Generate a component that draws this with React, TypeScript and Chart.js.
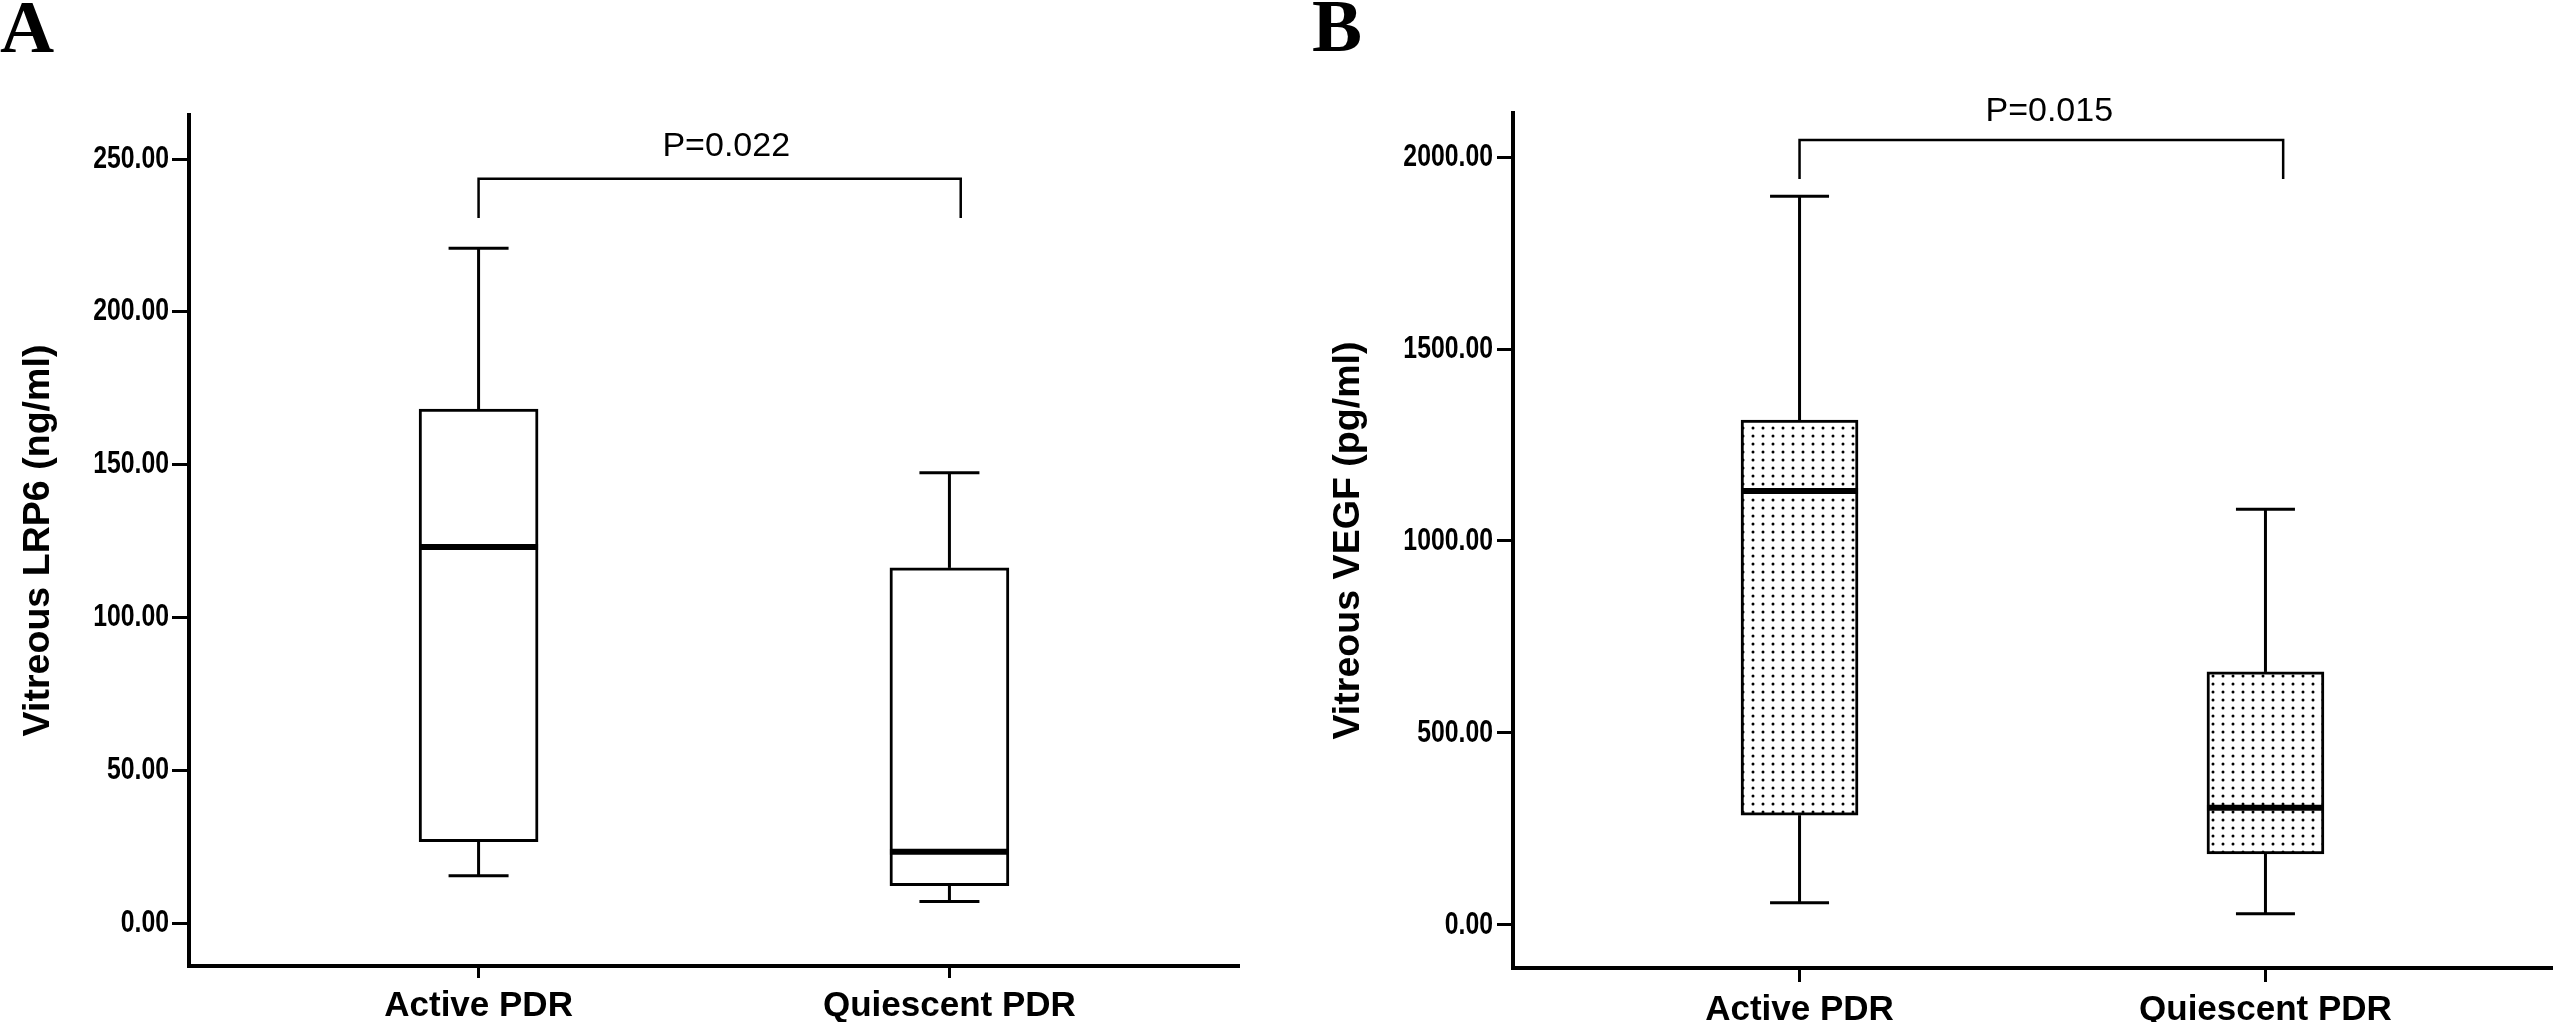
import React, { useEffect, useRef } from 'react';
import { Chart, registerables } from 'chart.js';

Chart.register(...registerables);

// ---------- data ----------
const categories = ['Active PDR', 'Quiescent PDR'];
const categoryX = [1, 2];

// Panel A: Vitreous LRP6 (ng/ml)
const lrp6Min = [15.5, 7.0];
const lrp6Q1 = [26.6, 12.2];
const lrp6Median = [123.0, 23.3];
const lrp6Q3 = [168.2, 116.2];
const lrp6Max = [220.8, 147.3];
const lrp6Ticks = [0, 50, 100, 150, 200, 250];
const lrp6P = 'P=0.022';

// Panel B: Vitreous VEGF (pg/ml)
const vegfMin = [58, 29];
const vegfQ1 = [286, 185];
const vegfMedian = [1130, 305];
const vegfQ3 = [1315, 659];
const vegfMax = [1898, 1083];
const vegfTicks = [0, 500, 1000, 1500, 2000];
const vegfP = 'P=0.015';

const SANS = "'Liberation Sans', Arial, sans-serif";
const SERIF = "'Liberation Serif', 'Times New Roman', serif";

type PanelCfg = {
  letter: string;
  letterX: number;
  letterBaseline: number;
  yTitle: string;
  yMin: number;
  yMax: number;
  yTicks: number[];
  mins: number[];
  q1: number[];
  med: number[];
  q3: number[];
  maxs: number[];
  boxWidth: number;
  capWidth: number;
  patterned: boolean;
  pLabel: string;
  pX: number;
  pY: number;
  bracket: { x1: number; x2: number; top: number; legEnd: number };
  padTop: number;
  padRight: number;
  yAxisWidth: number;
  xAxisHeight: number;
  yTickLength: number;
  yTickPad: number;
  xTickLength: number;
  titlePad: number;
};

const panelA: PanelCfg = {
  letter: 'A',
  letterX: 0,
  letterBaseline: 52,
  yTitle: 'Vitreous LRP6 (ng/ml)',
  yMin: -14.07,
  yMax: 264.4,
  yTicks: lrp6Ticks,
  mins: lrp6Min,
  q1: lrp6Q1,
  med: lrp6Median,
  q3: lrp6Q3,
  maxs: lrp6Max,
  boxWidth: 119,
  capWidth: 60,
  patterned: false,
  pLabel: lrp6P,
  pX: 1.526,
  pY: 251,
  bracket: { x1: 1, x2: 2.024, top: 243.5, legEnd: 230.7 },
  padTop: 115,
  padRight: 41,
  yAxisWidth: 189,
  xAxisHeight: 56,
  yTickLength: 17,
  yTickPad: 3,
  xTickLength: 12,
  titlePad: 16.4,
};

const panelB: PanelCfg = {
  letter: 'B',
  letterX: 32,
  letterBaseline: 51,
  yTitle: 'Vitreous VEGF (pg/ml)',
  yMin: -112,
  yMax: 2114.6,
  yTicks: vegfTicks,
  mins: vegfMin,
  q1: vegfQ1,
  med: vegfMedian,
  q3: vegfQ3,
  maxs: vegfMax,
  boxWidth: 117,
  capWidth: 59,
  patterned: true,
  pLabel: vegfP,
  pX: 1.536,
  pY: 2094,
  bracket: { x1: 1, x2: 2.038, top: 2044, legEnd: 1943 },
  padTop: 113,
  padRight: 9,
  yAxisWidth: 233,
  xAxisHeight: 54,
  yTickLength: 16,
  yTickPad: 4,
  xTickLength: 14,
  titlePad: 46.4,
};

const NARROW_SCALE = 0.8;

function makeDotPattern(ctx: CanvasRenderingContext2D): CanvasPattern | string {
  const c = document.createElement('canvas');
  c.width = 10;
  c.height = 8;
  const g = c.getContext('2d');
  if (!g) return '#ffffff';
  g.fillStyle = '#ffffff';
  g.fillRect(0, 0, 10, 8);
  g.fillStyle = '#000000';
  g.beginPath();
  g.arc(3, 4, 1.5, 0, Math.PI * 2);
  g.fill();
  return ctx.createPattern(c, 'repeat') || '#ffffff';
}

function extrasPlugin(cfg: PanelCfg) {
  return {
    id: 'boxExtras' + cfg.letter,
    afterDatasetsDraw(chart: any) {
      const { ctx } = chart;
      const xs = chart.scales.x;
      const ys = chart.scales.y;
      const line = (x1: number, y1: number, x2: number, y2: number) => {
        ctx.beginPath();
        ctx.moveTo(x1, y1);
        ctx.lineTo(x2, y2);
        ctx.stroke();
      };
      ctx.save();
      ctx.strokeStyle = '#000';
      ctx.lineCap = 'butt';
      for (let i = 0; i < categoryX.length; i++) {
        const cx = xs.getPixelForValue(categoryX[i]);
        const yMin = ys.getPixelForValue(cfg.mins[i]);
        const yQ1 = ys.getPixelForValue(cfg.q1[i]);
        const yMed = ys.getPixelForValue(cfg.med[i]);
        const yQ3 = ys.getPixelForValue(cfg.q3[i]);
        const yMax = ys.getPixelForValue(cfg.maxs[i]);
        const capHalf = cfg.capWidth / 2;
        const boxHalf = cfg.boxWidth / 2;
        ctx.lineWidth = 3;
        line(cx, yQ3, cx, yMax);
        line(cx - capHalf, yMax, cx + capHalf, yMax);
        line(cx, yQ1, cx, yMin);
        line(cx - capHalf, yMin, cx + capHalf, yMin);
        ctx.lineWidth = 6;
        line(cx - boxHalf, yMed, cx + boxHalf, yMed);
      }
      // significance bracket
      const b = cfg.bracket;
      const bx1 = xs.getPixelForValue(b.x1);
      const bx2 = xs.getPixelForValue(b.x2);
      const bTop = ys.getPixelForValue(b.top);
      const bLeg = ys.getPixelForValue(b.legEnd);
      ctx.lineWidth = 2.5;
      ctx.lineJoin = 'miter';
      ctx.beginPath();
      ctx.moveTo(bx1, bLeg);
      ctx.lineTo(bx1, bTop);
      ctx.lineTo(bx2, bTop);
      ctx.lineTo(bx2, bLeg);
      ctx.stroke();
      // p value
      ctx.fillStyle = '#000';
      ctx.font = `34px ${SANS}`;
      ctx.textAlign = 'center';
      ctx.textBaseline = 'alphabetic';
      ctx.fillText(cfg.pLabel, xs.getPixelForValue(cfg.pX), ys.getPixelForValue(cfg.pY));
      // panel letter
      ctx.font = `bold 75px ${SERIF}`;
      ctx.textAlign = 'left';
      ctx.fillText(cfg.letter, cfg.letterX, cfg.letterBaseline);
      ctx.restore();
    },
  };
}

function BoxPanel({ cfg, left, width }: { cfg: PanelCfg; left: number; width: number }) {
  const ref = useRef<HTMLCanvasElement>(null);
  useEffect(() => {
    const canvas = ref.current;
    if (!canvas) return;
    const ctx = canvas.getContext('2d');
    if (!ctx) return;
    const fill = cfg.patterned ? makeDotPattern(ctx) : '#ffffff';
    const chart = new Chart(canvas, {
      type: 'bar',
      data: {
        datasets: [
          {
            data: categoryX.map((x, i) => ({ x, y: [cfg.q1[i], cfg.q3[i]] })) as any,
            backgroundColor: fill as any,
            borderColor: '#000',
            borderWidth: 3,
            borderSkipped: false,
            barThickness: cfg.boxWidth,
          },
        ],
      },
      options: {
        responsive: false,
        animation: false,
        devicePixelRatio: 1,
        events: [],
        layout: { padding: { left: 0, top: cfg.padTop, right: cfg.padRight, bottom: 0 } },
        plugins: { legend: { display: false }, tooltip: { enabled: false } },
        scales: {
          x: {
            type: 'linear',
            offset: false,
            min: 0.385,
            max: 2.615,
            afterBuildTicks: (s: any) => {
              s.ticks = categoryX.map((v) => ({ value: v }));
            },
            afterFit: (s: any) => {
              s.height = cfg.xAxisHeight;
            },
            ticks: {
              callback: (v: any) => {
                const idx = categoryX.indexOf(Number(v));
                return idx >= 0 ? categories[idx] : '';
              },
              font: { family: SANS, size: 35, weight: 'bold' },
              color: '#000',
              padding: 7,
              maxRotation: 0,
              minRotation: 0,
              autoSkip: false,
            },
            grid: {
              offset: false,
              drawOnChartArea: false,
              drawTicks: true,
              tickLength: cfg.xTickLength,
              tickWidth: 3,
              tickColor: '#000',
              color: '#000',
            },
            border: { display: true, width: 4, color: '#000' },
          },
          y: {
            type: 'linear',
            min: cfg.yMin,
            max: cfg.yMax,
            afterBuildTicks: (s: any) => {
              s.ticks = cfg.yTicks.map((v) => ({ value: v }));
            },
            afterFit: (s: any) => {
              s.width = cfg.yAxisWidth;
              if (!s.__narrowPatched) {
                s.__narrowPatched = true;
                const orig = s.drawLabels.bind(s);
                s.drawLabels = (area: any) => {
                  const c = s.ctx;
                  const x0 = s.right - cfg.yTickLength - cfg.yTickPad;
                  c.save();
                  c.translate(x0, 0);
                  c.scale(NARROW_SCALE, 1);
                  c.translate(-x0, 0);
                  orig(area);
                  c.restore();
                };
              }
            },
            ticks: {
              callback: (v: any) => Number(v).toFixed(2),
              font: { family: SANS, size: 31, weight: 'bold' },
              color: '#000',
              padding: cfg.yTickPad,
              autoSkip: false,
            },
            grid: {
              drawOnChartArea: false,
              drawTicks: true,
              tickLength: cfg.yTickLength,
              tickWidth: 3,
              tickColor: '#000',
              color: '#000',
            },
            border: { display: true, width: 4, color: '#000' },
            title: {
              display: true,
              text: cfg.yTitle,
              font: { family: SANS, size: 37.6, weight: 'bold' },
              color: '#000',
              padding: { top: cfg.titlePad, bottom: 0 },
            },
          },
        },
      } as any,
      plugins: [extrasPlugin(cfg)],
    });
    return () => chart.destroy();
  }, [cfg]);
  return (
    <canvas
      ref={ref}
      width={width}
      height={1022}
      style={{ position: 'absolute', left, top: 0, width, height: 1022 }}
    />
  );
}

export default function App() {
  return (
    <div
      style={{
        position: 'fixed',
        left: 0,
        top: 0,
        width: 2561,
        height: 1022,
        background: '#ffffff',
        overflow: 'hidden',
      }}
    >
      <BoxPanel cfg={panelA} left={0} width={1280} />
      <BoxPanel cfg={panelB} left={1280} width={1281} />
    </div>
  );
}
